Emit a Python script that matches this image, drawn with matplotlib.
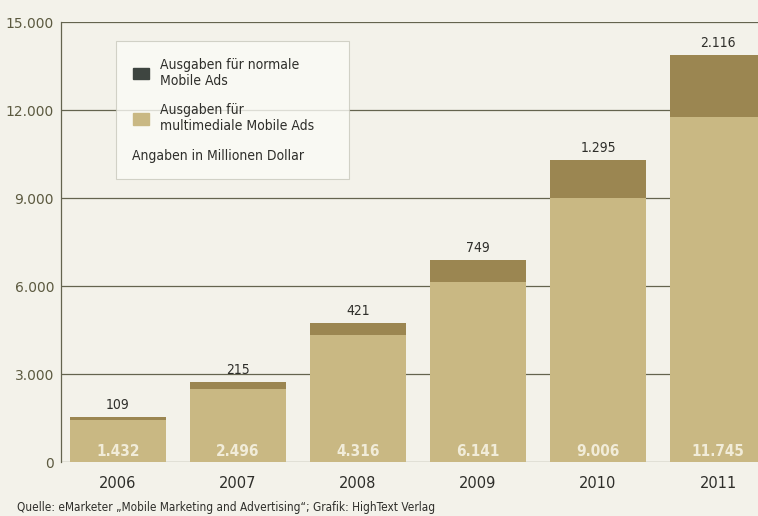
"""
Mobile-Werbeausgaben 2006-2011, gestapelte Säulen (Millionen Dollar).
"""

import matplotlib.pyplot as plt
from matplotlib.patches import Patch


# ---------------------------------------------------------------------------
# Daten
# ---------------------------------------------------------------------------
YEARS = ["2006", "2007", "2008", "2009", "2010", "2011"]
MULTIMEDIA = [1432, 2496, 4316, 6141, 9006, 11745]
NORMAL = [109, 215, 421, 749, 1295, 2116]
Y_TICKS = [0, 3000, 6000, 9000, 12000, 15000]

SOURCE = "Quelle: eMarketer \u201eMobile Marketing and Advertising\u201c; Grafik: HighText Verlag"

# Farben
BG = "#f3f2ea"
LIGHT = "#c9b883"
DARK = "#9b8651"
LEGEND_DARK = "#3e4540"
GRID = "#64644f"
TEXT = "#2e2e2a"
TICK = "#5c5a40"


def fmt(v):
    # deutsche Tausendertrennung
    return f"{v:,}".replace(",", ".")


def main():
    plt.rcParams["font.family"] = ["DejaVu Sans"]
    fig = plt.figure(figsize=(7.58, 5.16), dpi=100, facecolor=BG)
    ax = fig.add_axes([61 / 758, 54 / 516, 1 - 61 / 758, 440 / 516])
    ax.set_facecolor(BG)

    x = list(range(len(YEARS)))
    ax.bar(x, MULTIMEDIA, width=0.8, color=LIGHT, zorder=3)
    ax.bar(x, NORMAL, width=0.8, bottom=MULTIMEDIA, color=DARK, zorder=3)

    for i, (m, n) in enumerate(zip(MULTIMEDIA, NORMAL)):
        ax.text(i, 100, fmt(m), ha="center", va="bottom", color="#f1ecd9",
                fontsize=11, fontweight="semibold", fontstretch="condensed", zorder=4)
        ax.text(i, m + n + 170, fmt(n), ha="center", va="bottom", color=TEXT,
                fontsize=10, fontstretch="condensed", zorder=4)

    ax.set_xlim(-0.475, 5.333)
    ax.set_ylim(0, 15000)
    ax.set_yticks(Y_TICKS)
    ax.set_yticklabels([fmt(t) for t in Y_TICKS], color=TICK, fontsize=10)
    ax.set_xticks(x)
    ax.set_xticklabels(YEARS, color=TEXT, fontsize=10.5)
    ax.tick_params(axis="x", length=0, pad=10)
    ax.tick_params(axis="y", length=0, pad=5)
    ax.yaxis.grid(True, color=GRID, linewidth=0.9, zorder=1)
    ax.set_axisbelow(True)
    for side in ["top", "right", "bottom"]:
        ax.spines[side].set_visible(False)
    ax.spines["left"].set_color(GRID)
    ax.spines["left"].set_linewidth(0.9)

    # Legende
    handles = [
        Patch(color=LEGEND_DARK, label="Ausgaben für normale\nMobile Ads"),
        Patch(color=LIGHT, label="Ausgaben für\nmultimediale Mobile Ads"),
        Patch(color="none", label="Angaben in Millionen Dollar"),
    ]
    leg = ax.legend(handles=handles, loc="upper left",
                    bbox_to_anchor=((116 - 61) / 697, (462 - 41) / 440),
                    frameon=True, fancybox=False, fontsize=10,
                    handlelength=1.2, handleheight=0.9, handletextpad=0.8,
                    labelspacing=1.1, borderpad=1.2, borderaxespad=0)
    leg.get_frame().set_facecolor("#fbfbf6")
    leg.get_frame().set_edgecolor("#c8c8bc")
    leg.get_frame().set_linewidth(0.8)
    for t in leg.get_texts():
        t.set_color(TEXT)
        t.set_fontstretch("condensed")
    # letzte Zeile ohne Symbol, links bündig
    leg.legend_handles[2].set_visible(False)
    leg.get_texts()[2].set_position((-28, 0))
    leg.set_zorder(5)

    fig.text(17 / 758, 1 - 508 / 516, SOURCE, ha="left", va="center",
             fontsize=8.5, color=TEXT, fontstretch="condensed")

    fig.savefig("out.png", dpi=100, facecolor=BG)
    plt.close(fig)


if __name__ == "__main__":
    main()
